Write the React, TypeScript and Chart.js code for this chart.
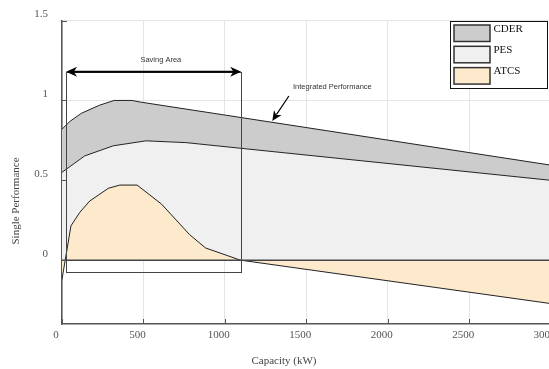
import React, { useEffect, useRef } from "react";
import { Chart, registerables } from "chart.js";

Chart.register(...registerables);

// ---- data ----
const cderX = [0, 50, 120, 230, 320, 430, 480, 3000];
const cderY = [0.82, 0.87, 0.92, 0.97, 1.0, 1.0, 0.99, 0.595];

const pesX = [0, 140, 315, 515, 760, 3000];
const pesY = [0.55, 0.653, 0.716, 0.747, 0.736, 0.5];

const atcsX = [0, 55, 110, 170, 285, 355, 461, 611, 784, 882, 1095, 3000];
const atcsY = [-0.12, 0.215, 0.3, 0.37, 0.45, 0.47, 0.47, 0.351, 0.159, 0.076, 0, -0.272];

const zeroX = [0, 3000];
const zeroY = [0, 0];

const xTicks = [0, 500, 1000, 1500, 2000, 2500, 3000];
const yTicks = [0, 0.5, 1, 1.5];

const seriesLabels = ["CDER", "PES", "ATCS"];
const seriesColors = ["#cccccc", "#f0f0f0", "#fde9cb"];

const xTitle = "Capacity (kW)";
const yTitle = "Single Performance";

// annotations in data units
const savingArea = { x0: 25, x1: 1100, y0: -0.07, y1: 1.18, label: "Saving Area", labelX: 607, labelY: 1.255 };
const integrated = { label: "Integrated Performance", textX: 1660, textY: 1.086, tailX: 1393, tailY: 1.028, tipX: 1291, tipY: 0.872 };

const pts = (xs: number[], ys: number[]) => xs.map((v, i) => ({ x: v, y: ys[i] }));

const SERIF = "'Liberation Serif', 'Times New Roman', serif";
const SANS = "'Liberation Sans', Arial, sans-serif";

function arrowHead(ctx: CanvasRenderingContext2D, tx: number, ty: number, fx: number, fy: number, len: number, half: number) {
  const a = Math.atan2(ty - fy, tx - fx);
  const cos = Math.cos(a), sin = Math.sin(a);
  const bx = tx - len * cos, by = ty - len * sin;
  const nx = tx - len * 0.7 * cos, ny = ty - len * 0.7 * sin;
  ctx.beginPath();
  ctx.moveTo(tx, ty);
  ctx.lineTo(bx - half * sin, by + half * cos);
  ctx.lineTo(nx, ny);
  ctx.lineTo(bx + half * sin, by - half * cos);
  ctx.closePath();
  ctx.fill();
}

const overlay = {
  id: "overlay",
  afterDatasetsDraw(chart: any) {
    const { ctx, chartArea } = chart;
    const xs = chart.scales.x;
    const ys = chart.scales.y;
    ctx.save();

    // inward ticks
    ctx.strokeStyle = "#555";
    ctx.lineWidth = 1;
    xTicks.forEach((v) => {
      const px = Math.round(xs.getPixelForValue(v)) + 0.5;
      ctx.beginPath();
      ctx.moveTo(px, chartArea.bottom);
      ctx.lineTo(px, chartArea.bottom - 5);
      ctx.stroke();
    });
    yTicks.forEach((v) => {
      const py = Math.round(ys.getPixelForValue(v)) + 0.5;
      ctx.beginPath();
      ctx.moveTo(chartArea.left, py);
      ctx.lineTo(chartArea.left + 5, py);
      ctx.stroke();
    });

    // saving area rectangle
    const rx0 = xs.getPixelForValue(savingArea.x0);
    const rx1 = xs.getPixelForValue(savingArea.x1);
    const ry0 = ys.getPixelForValue(savingArea.y1);
    const ry1 = ys.getPixelForValue(savingArea.y0);
    ctx.strokeStyle = "#444";
    ctx.lineWidth = 1;
    ctx.strokeRect(Math.round(rx0) + 0.5, Math.round(ry0) + 0.5, Math.round(rx1 - rx0), Math.round(ry1 - ry0));

    // double arrow
    ctx.strokeStyle = "#000";
    ctx.fillStyle = "#000";
    ctx.lineWidth = 2;
    ctx.beginPath();
    ctx.moveTo(rx0 + 6, ry0);
    ctx.lineTo(rx1 - 6, ry0);
    ctx.stroke();
    arrowHead(ctx, rx0, ry0, rx1, ry0, 11, 5);
    arrowHead(ctx, rx1, ry0, rx0, ry0, 11, 5);

    ctx.fillStyle = "#333";
    ctx.font = `7.5px ${SANS}`;
    ctx.textAlign = "center";
    ctx.textBaseline = "middle";
    ctx.fillText(savingArea.label, xs.getPixelForValue(savingArea.labelX), ys.getPixelForValue(savingArea.labelY));

    // integrated performance annotation
    ctx.fillText(integrated.label, xs.getPixelForValue(integrated.textX), ys.getPixelForValue(integrated.textY));
    const tx = xs.getPixelForValue(integrated.tipX), ty = ys.getPixelForValue(integrated.tipY);
    const fx = xs.getPixelForValue(integrated.tailX), fy = ys.getPixelForValue(integrated.tailY);
    ctx.strokeStyle = "#000";
    ctx.fillStyle = "#000";
    ctx.lineWidth = 1.2;
    ctx.beginPath();
    ctx.moveTo(fx, fy);
    ctx.lineTo(tx + (fx - tx) * 0.25, ty + (fy - ty) * 0.25);
    ctx.stroke();
    arrowHead(ctx, tx, ty, fx, fy, 10, 4.5);

    // legend
    const lx = 450.5, ly = 21.5, lw = 97, lh = 67;
    ctx.fillStyle = "#fff";
    ctx.fillRect(lx, ly, lw, lh);
    ctx.strokeStyle = "#111";
    ctx.lineWidth = 1;
    ctx.strokeRect(lx, ly, lw, lh);
    seriesLabels.forEach((lab, i) => {
      const sy = 25 + i * 21.3;
      ctx.fillStyle = seriesColors[i];
      ctx.fillRect(454, sy, 36, 16.5);
      ctx.strokeStyle = "#333";
      ctx.lineWidth = 1.5;
      ctx.strokeRect(454, sy, 36, 16.5);
      ctx.fillStyle = "#111";
      ctx.font = `11px ${SERIF}`;
      ctx.textAlign = "left";
      ctx.textBaseline = "middle";
      ctx.fillText(lab, 493.5, sy + 4);
    });

    // axis titles
    ctx.fillStyle = "#444";
    ctx.font = `11px ${SERIF}`;
    ctx.textAlign = "center";
    ctx.textBaseline = "middle";
    ctx.fillText(xTitle, 284, 361);
    ctx.save();
    ctx.translate(16.5, 201);
    ctx.rotate(-Math.PI / 2);
    ctx.fillText(yTitle, 0, 0);
    ctx.restore();

    ctx.restore();
  },
};

export default function App() {
  const ref = useRef<HTMLCanvasElement | null>(null);

  useEffect(() => {
    const canvas = ref.current;
    if (!canvas) return;
    const line = { borderColor: "#222", borderWidth: 1, pointRadius: 0, tension: 0 };
    const chart = new Chart(canvas, {
      type: "line",
      data: {
        datasets: [
          { label: "", data: pts(zeroX, zeroY), borderColor: "#444", borderWidth: 1.5, pointRadius: 0, fill: false },
          { label: seriesLabels[2], data: pts(atcsX, atcsY), backgroundColor: seriesColors[2], fill: "origin", ...line },
          { label: seriesLabels[1], data: pts(pesX, pesY), backgroundColor: seriesColors[1], fill: "origin", ...line },
          { label: seriesLabels[0], data: pts(cderX, cderY), backgroundColor: seriesColors[0], fill: "-1", ...line },
        ],
      },
      options: {
        responsive: false,
        animation: false,
        devicePixelRatio: 1,
        layout: { padding: { left: 0, top: 18.6, right: 19.4, bottom: 0 } },
        plugins: { legend: { display: false }, tooltip: { enabled: false } },
        scales: {
          x: {
            type: "linear",
            min: 0,
            max: 3000,
            afterBuildTicks: (s: any) => { s.ticks = xTicks.map((v) => ({ value: v })); },
            afterFit: (s: any) => { s.height = 45; },
            grid: { color: "#e4e4e4", lineWidth: 1, drawTicks: false },
            border: { color: "#555", width: 1.5 },
            ticks: {
              color: "#555",
              font: { family: SERIF, size: 11 },
              padding: 5,
              labelOffset: -6,
              maxRotation: 0,
              autoSkip: false,
              callback: (v: any) => String(v),
            },
          },
          y: {
            type: "linear",
            min: -0.4,
            max: 1.5,
            afterBuildTicks: (s: any) => { s.ticks = yTicks.map((v) => ({ value: v })); },
            afterFit: (s: any) => { s.width = 62; },
            grid: { color: "#e4e4e4", lineWidth: 1, drawTicks: false },
            border: { color: "#555", width: 1.5 },
            ticks: {
              color: "#555",
              font: { family: SERIF, size: 11 },
              padding: 14,
              labelOffset: -6,
              callback: (v: any) => String(v),
            },
          },
        },
      },
      plugins: [overlay],
    } as any);
    return () => chart.destroy();
  }, []);

  return (
    <div style={{ position: "fixed", left: 0, top: 0, width: 549, height: 369, overflow: "hidden", background: "#fff" }}>
      <canvas ref={ref} width={570} height={369} style={{ display: "block" }} />
    </div>
  );
}
